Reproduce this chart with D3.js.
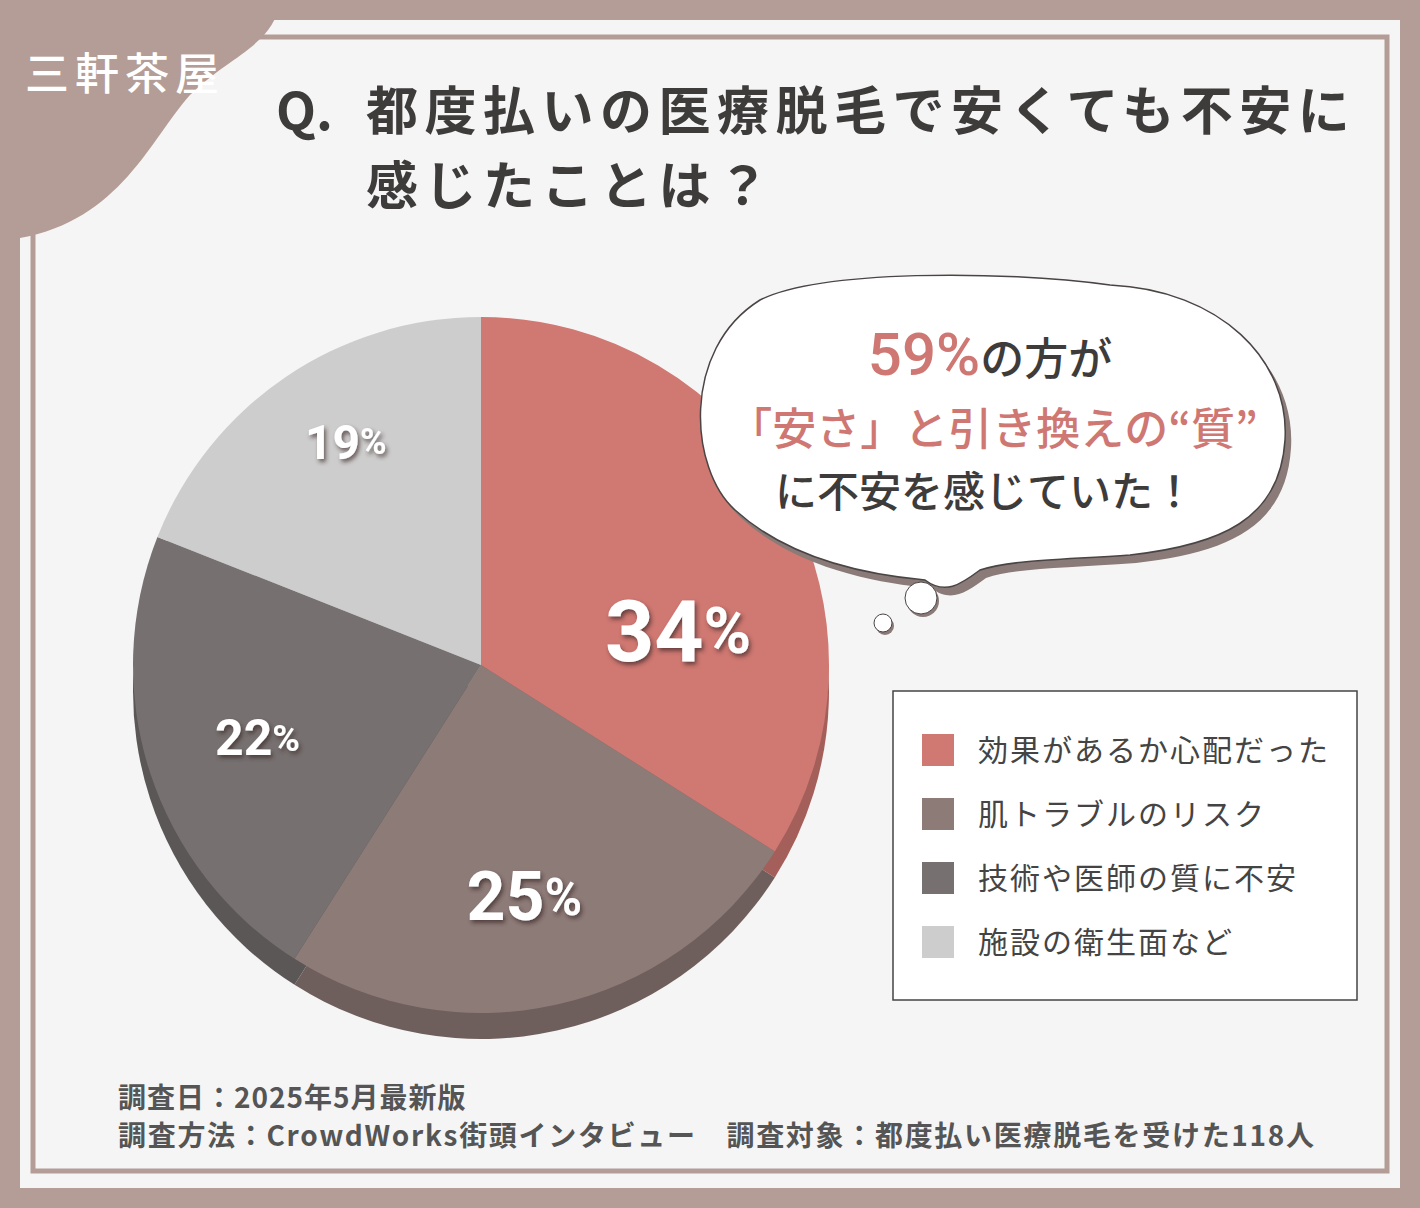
<!DOCTYPE html><html><head><meta charset="utf-8"><script src="https://cdn.jsdelivr.net/npm/d3@7"></script>
<style>body{margin:0}svg{display:block;font-family:"Noto Sans CJK JP",sans-serif}</style></head><body>
<script>
const categories=["効果があるか心配だった","肌トラブルのリスク","技術や医師の質に不安","施設の衛生面など"];
const values=[34,25,22,19];
const colors=["#d07872","#8d7b78","#767170","#cdcdcd"];
const sideColors=["#a45f5a","#6f5f5c","#5b5756","#a9a9a9"];
const labelSizes=[86,68,50,48];
const labelR=[200,236,235,261];
const labelShift=[19,2,0,3];
const W=1420,H=1208;
const svg=d3.select("body").append("svg").attr("width",W).attr("height",H);
svg.append("rect").attr("width",W).attr("height",H).attr("fill","#b39d96");
svg.append("rect").attr("x",20).attr("y",20).attr("width",1380).attr("height",1168).attr("fill","#f6f5f5");
svg.append("rect").attr("x",33).attr("y",37).attr("width",1354).attr("height",1134).attr("fill","none").attr("stroke","#b39d96").attr("stroke-width",5);
svg.append("path").attr("d","M0,0H280C275,45 230,55 190,95C150,140 120,220 20,238V0Z").attr("fill","#b39d96");
svg.append("text").attr("x",25).attr("y",90).attr("fill","#fff").attr("font-size",44).attr("font-weight",500).attr("letter-spacing",6).text("三軒茶屋");
const t=svg.append("g").attr("fill","#3e3b3b").attr("font-weight",700).attr("font-size",52);
t.append("text").attr("x",276).attr("y",130).text("Q.");
t.append("text").attr("x",366).attr("y",130).attr("letter-spacing",6.5).text("都度払いの医療脱毛で安くても不安に");
t.append("text").attr("x",366).attr("y",205).attr("letter-spacing",6.5).text("感じたことは？");
const cx=481,cy=665,R=348,depth=26;
const pie=d3.pie().sort(null).value(d=>d)(values);
const arc=d3.arc().innerRadius(0).outerRadius(R);
const side=svg.append("g").attr("transform",`translate(${cx},${cy+depth})`);
side.selectAll("path").data(pie).join("path").attr("d",arc).attr("fill",(d,i)=>sideColors[i]);
const g=svg.append("g").attr("transform",`translate(${cx},${cy})`);
g.selectAll("path").data(pie).join("path").attr("d",arc).attr("fill",(d,i)=>colors[i]);
const defs=svg.append("defs");
defs.append("filter").attr("id","sh").append("feDropShadow").attr("dx",2).attr("dy",3).attr("stdDeviation",2).attr("flood-color","#3a2a28").attr("flood-opacity",0.7);
pie.forEach((d,i)=>{
  const a=(d.startAngle+d.endAngle)/2+labelShift[i]*Math.PI/180;
  const x=labelR[i]*Math.sin(a), y=-labelR[i]*Math.cos(a);
  const tx=g.append("text").attr("x",x).attr("y",y).attr("text-anchor","middle").attr("dominant-baseline","central")
   .attr("fill","#fff").attr("font-family","Roboto,sans-serif").attr("font-weight",700).attr("font-size",labelSizes[i]).attr("filter","url(#sh)");
  tx.append("tspan").text(values[i]);
  tx.append("tspan").attr("font-size",labelSizes[i]*0.75).text("%");
});
const bub="M760,300C820,270 1000,270 1110,285C1220,290 1290,360 1285,440C1280,520 1220,545 1130,555C1060,560 1010,560 980,570C960,585 945,595 925,580C870,575 790,560 735,510C690,470 680,350 760,300Z";
svg.append("path").attr("d",bub).attr("transform","translate(6,8)").attr("fill","#8a7a78");
svg.append("path").attr("d",bub).attr("fill","#fff").attr("stroke","#4a4444").attr("stroke-width",1.5);
[[921,598,16],[883,623,9]].forEach(c=>{
 svg.append("circle").attr("cx",c[0]+2).attr("cy",c[1]+3).attr("r",c[2]).attr("fill","#8a7a78");
 svg.append("circle").attr("cx",c[0]).attr("cy",c[1]).attr("r",c[2]).attr("fill","#fff").attr("stroke","#4a4444");
});
const b1=svg.append("text").attr("x",990).attr("y",375).attr("text-anchor","middle").attr("font-size",44).attr("fill","#3e3b3b").attr("font-weight",500);
b1.append("tspan").attr("fill","#cf7772").attr("font-size",60).attr("font-family","Roboto,sans-serif").text("59%");
b1.append("tspan").text("の方が");
svg.append("text").attr("x",993).attr("y",445).attr("text-anchor","middle").attr("font-size",44).attr("fill","#cf7772").attr("font-weight",500).text("「安さ」と引き換えの“質”");
svg.append("text").attr("x",985).attr("y",507).attr("text-anchor","middle").attr("font-size",42).attr("fill","#3e3b3b").attr("font-weight",500).text("に不安を感じていた！");
svg.append("rect").attr("x",893).attr("y",691).attr("width",464).attr("height",309).attr("fill","#fff").attr("stroke","#444").attr("stroke-width",1.5);
const lg=svg.append("g").selectAll("g").data(categories).join("g").attr("transform",(d,i)=>`translate(922,${734+i*64})`);
lg.append("rect").attr("width",32).attr("height",32).attr("fill",(d,i)=>colors[i]);
lg.append("text").attr("x",56).attr("y",27).attr("font-size",30).attr("fill","#444").attr("letter-spacing",2).text(d=>d);
const f=svg.append("g").attr("fill","#555").attr("font-weight",700).attr("font-size",28);
f.append("text").attr("x",118).attr("y",1108).attr("letter-spacing",1).text("調査日：2025年5月最新版");
f.append("text").attr("x",118).attr("y",1146).attr("letter-spacing",1.7).text("調査方法：CrowdWorks街頭インタビュー　調査対象：都度払い医療脱毛を受けた118人");
</script></body></html>
